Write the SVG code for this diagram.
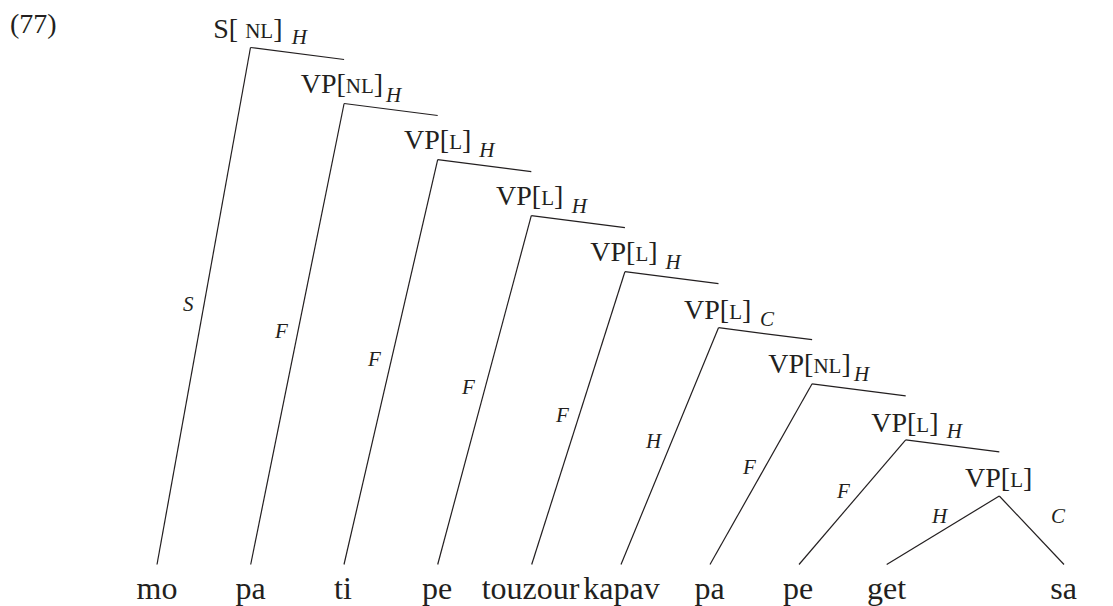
<svg xmlns="http://www.w3.org/2000/svg" width="1113" height="606" viewBox="0 0 1113 606">
<style>
text{font-family:"Liberation Serif","Times New Roman",serif;fill:#231f20}
.lab{font-size:28px}
.sc{font-size:21px}
.sub{font-size:21px;font-style:italic}
.edge{font-size:21px;font-style:italic}
.word{font-size:32px;text-anchor:middle}
line{stroke:#231f20;stroke-width:1.2;fill:none}
</style>
<rect width="1113" height="606" fill="#fff"/>
<text class="lab" x="10" y="33">(77)</text>
<g id="connectors">
<line x1="250.5" y1="47.5" x2="157" y2="564.5"/>
<line x1="250.5" y1="47.5" x2="344.1" y2="59.5"/>
<line x1="344.1" y1="103.5" x2="250.7" y2="564.5"/>
<line x1="344.1" y1="103.5" x2="437.7" y2="115.5"/>
<line x1="437.7" y1="159.6" x2="344" y2="564.5"/>
<line x1="437.7" y1="159.6" x2="531.3" y2="171.6"/>
<line x1="531.3" y1="215.6" x2="437.7" y2="564.5"/>
<line x1="531.3" y1="215.6" x2="624.9" y2="227.6"/>
<line x1="624.9" y1="271.7" x2="531.7" y2="564.5"/>
<line x1="624.9" y1="271.7" x2="718.5" y2="283.7"/>
<line x1="718.5" y1="327.7" x2="621" y2="564.5"/>
<line x1="718.5" y1="327.7" x2="812.1" y2="339.7"/>
<line x1="812.1" y1="383.8" x2="710" y2="564.5"/>
<line x1="812.1" y1="383.8" x2="905.7" y2="395.8"/>
<line x1="905.7" y1="439.8" x2="799" y2="564.5"/>
<line x1="905.7" y1="439.8" x2="999.3" y2="451.8"/>
<line x1="999.3" y1="496" x2="886.7" y2="564.5"/>
<line x1="999.3" y1="496" x2="1064" y2="564.5"/>
<text class="edge" x="183" y="311">S</text>
<text class="edge" x="275" y="338">F</text>
<text class="edge" x="368" y="366">F</text>
<text class="edge" x="462" y="394">F</text>
<text class="edge" x="556" y="421.5">F</text>
<text class="edge" x="646" y="448">H</text>
<text class="edge" x="743" y="474">F</text>
<text class="edge" x="837" y="498.3">F</text>
<text class="edge" x="932" y="522.7">H</text>
<text class="edge" x="1051" y="522.7">C</text>
</g>
<g id="n0"><text class="lab" x="213.3" y="37.7">S[ <tspan class="sc">NL</tspan>]</text><text class="sub" x="291.7" y="43.5">H</text></g>
<g id="n1"><text class="lab" x="300.7" y="93.3">VP[<tspan class="sc">NL</tspan>]</text><text class="sub" x="386" y="101.7">H</text></g>
<g id="n2"><text class="lab" x="404" y="149.3">VP[<tspan class="sc">L</tspan>]</text><text class="sub" x="479.3" y="157.3">H</text></g>
<g id="n3"><text class="lab" x="496" y="205">VP[<tspan class="sc">L</tspan>]</text><text class="sub" x="571.7" y="213">H</text></g>
<g id="n4"><text class="lab" x="590.3" y="261.2">VP[<tspan class="sc">L</tspan>]</text><text class="sub" x="665.5" y="269.2">H</text></g>
<g id="n5"><text class="lab" x="684" y="319.3">VP[<tspan class="sc">L</tspan>]</text><text class="sub" x="760" y="326">C</text></g>
<g id="n6"><text class="lab" x="768.3" y="373.3">VP[<tspan class="sc">NL</tspan>]</text><text class="sub" x="854" y="380.7">H</text></g>
<g id="n7"><text class="lab" x="871.2" y="431.7">VP[<tspan class="sc">L</tspan>]</text><text class="sub" x="946.7" y="438.3">H</text></g>
<g id="n8"><text class="lab" x="965" y="487.3">VP[<tspan class="sc">L</tspan>]</text></g>
<g id="w0"><text class="word" x="157" y="599">mo</text></g>
<g id="w1"><text class="word" x="250.5" y="599">pa</text></g>
<g id="w2"><text class="word" x="343" y="599">ti</text></g>
<g id="w3"><text class="word" x="437" y="599">pe</text></g>
<g id="w4"><text class="word" x="530.5" y="599">touzour</text></g>
<g id="w5"><text class="word" x="621.5" y="599">kapav</text></g>
<g id="w6"><text class="word" x="709.5" y="599">pa</text></g>
<g id="w7"><text class="word" x="798" y="599">pe</text></g>
<g id="w8"><text class="word" x="886.5" y="599">get</text></g>
<g id="w9"><text class="word" x="1063.5" y="599">sa</text></g>
</svg>
